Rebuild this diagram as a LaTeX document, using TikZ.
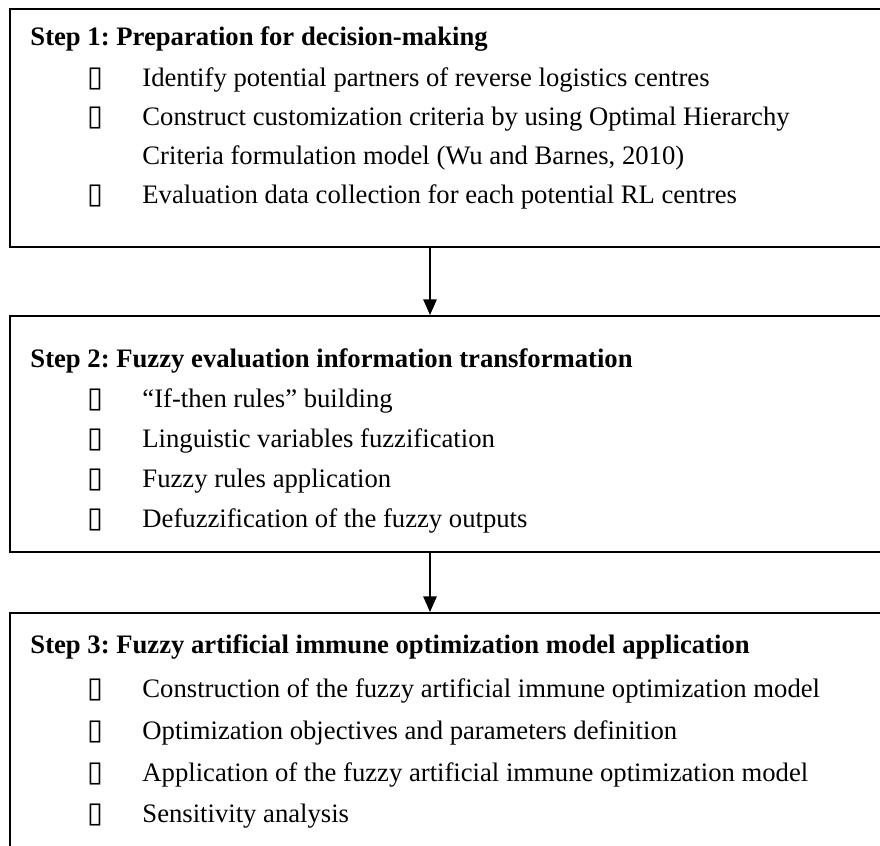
\documentclass[tikz,border=0pt]{standalone}
\usepackage{fontspec}
\setmainfont{Liberation Serif}
\newfontfamily\glyphfont{DejaVu Sans}
\usetikzlibrary{arrows.meta}
\frenchspacing

\newcommand{\tofu}{\makebox[24.75pt][l]{{\glyphfont\fontsize{13}{15}\selectfont ▯}}}

\begin{document}
\begin{tikzpicture}[x=0.45pt, y=-0.45pt, font=\fontsize{12}{18}\selectfont,
  stepbox/.style={draw, line width=0.8pt, rectangle, anchor=north west, minimum width=420pt, inner sep=0pt},
  heading/.style={anchor=base west, inner sep=0pt, font=\fontsize{12}{18}\selectfont\bfseries},
  entry/.style={anchor=base west, inner sep=0pt},
  flow/.style={line width=0.7pt, -{Triangle[width=6pt, length=7pt]}}]

  \useasboundingbox (0, 0) rectangle (880, 845);
  \clip (0, 0) rectangle (880, 845);

  \node (step-one) at (9, 8) [stepbox, minimum height=107.1pt] {};

  \node (step-two) at (9, 315) [stepbox, minimum height=106.2pt] {};

  \node (step-three) at (9, 612) [stepbox, minimum height=120pt] {};

  \coordinate (spine) at (430, 0);

  \node (preparation) at (30, 45) [heading] {Step 1: Preparation for decision-making};
  \node (partners) at (87, 86) [entry] {\tofu Identify potential partners of reverse logistics centres};
  \node (criteria) at (87, 125) [entry] {\tofu Construct customization criteria by using Optimal Hierarchy};
  \node (criteria-wrap) at (142, 164) [entry] {Criteria formulation model (Wu and Barnes, 2010)};
  \node (data) at (87, 203) [entry] {\tofu Evaluation data collection for each potential RL centres};

  \node (transformation) at (30, 367) [heading] {Step 2: Fuzzy evaluation information transformation};
  \node (if-then) at (87, 407) [entry] {\tofu “If-then rules” building};
  \node (fuzzification) at (87, 447) [entry] {\tofu Linguistic variables fuzzification};
  \node (rules) at (87, 487) [entry] {\tofu Fuzzy rules application};
  \node (defuzzification) at (87, 527) [entry] {\tofu Defuzzification of the fuzzy outputs};

  \node (immune) at (30, 653) [heading] {Step 3: Fuzzy artificial immune optimization model application};
  \node (construction) at (87, 697) [entry] {\tofu Construction of the fuzzy artificial immune optimization model};
  \node (objectives) at (87, 739) [entry] {\tofu Optimization objectives and parameters definition};
  \node (application) at (87, 781) [entry] {\tofu Application of the fuzzy artificial immune optimization model};
  \node (sensitivity) at (87, 822) [entry] {\tofu Sensitivity analysis};

  \draw[flow] (step-one.south -| spine) -- (step-two.north -| spine);

  \draw[flow] (step-two.south -| spine) -- (step-three.north -| spine);

\end{tikzpicture}
\end{document}
